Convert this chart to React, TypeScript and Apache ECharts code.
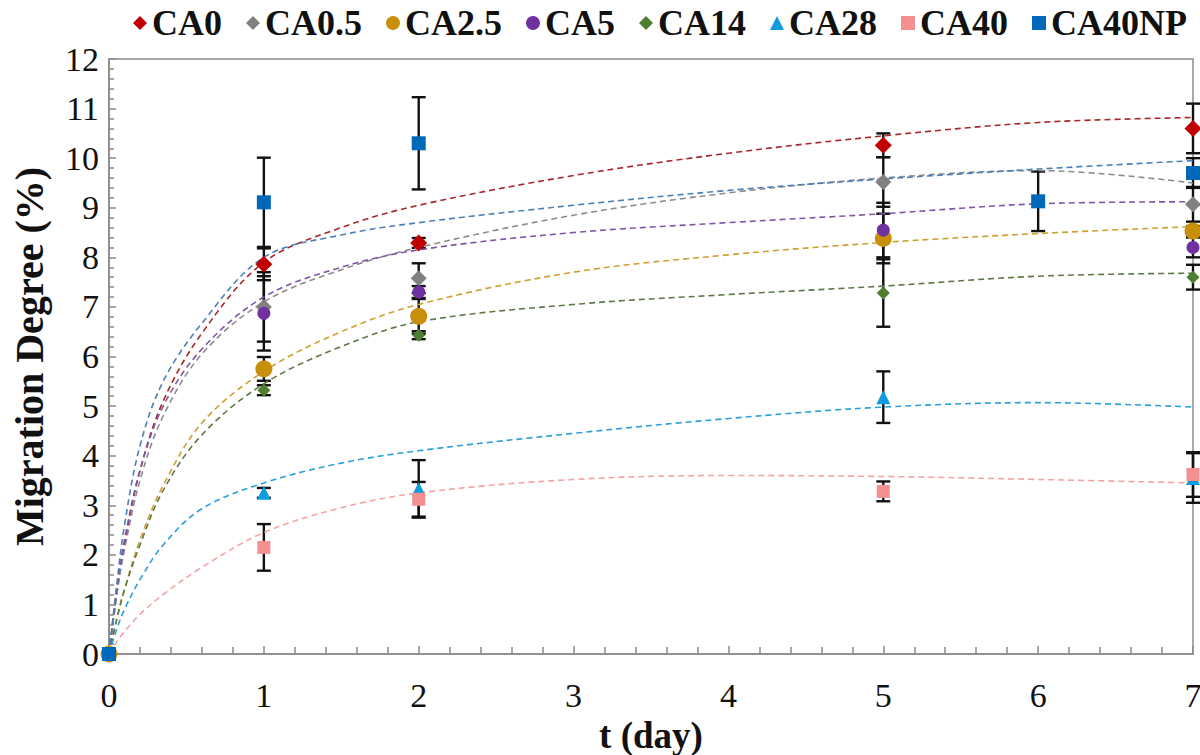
import React, { useEffect, useRef } from "react";
import * as echarts from "echarts";

// ---- data ----
const seriesNames = ["CA0", "CA0.5", "CA2.5", "CA5", "CA14", "CA28", "CA40", "CA40NP"];
const markerColors = ["#C00000", "#808080", "#C8900A", "#7030A0", "#4E7F2E", "#0F9BE0", "#F59090", "#0068B8"];
const trendColors = ["#A8282A", "#8C8C8C", "#CFA030", "#8055A8", "#5E7846", "#2A9FD8", "#F2A4A4", "#4A80B8"];
const symbols = ["diamond", "diamond", "circle", "circle", "diamond", "triangle", "rect", "rect"];
const symbolSizes = [17, 16, 17, 13, 13, 14, 13, 14];

const days = [0, 1, 2, 5, 7];
const daysNP = [0, 1, 2, 6, 7];

const CA0 = [0, 7.86, 8.29, 10.26, 10.6];
const CA0_5 = [0, 7.0, 7.58, 9.52, 9.07];
const CA2_5 = [0, 5.75, 6.81, 8.38, 8.53];
const CA5 = [0, 6.87, 7.3, 8.55, 8.2];
const CA14 = [0, 5.32, 6.43, 7.28, 7.6];
const CA28 = [0, 3.25, 3.33, 5.18, 3.55];
const CA40 = [0, 2.15, 3.12, 3.28, 3.62];
const CA40NP = [0, 9.11, 10.3, 9.13, 9.7];

const errCA0 = [0, 0.32, 0.1, 0.24, 0.5];
const errCA0_5 = [0, 0.7, 0.3, 0.5, 0.35];
const errCA2_5 = [0, 0.24, 0.35, 0.5, 0.1];
const errCA5 = [0, 0.75, 0.12, 0.55, 0.2];
const errCA14 = [0, 0.1, 0.08, 0.68, 0.25];
const errCA28 = [0, 0.1, 0.58, 0.52, 0.5];
const errCA40 = [0, 0.47, 0.35, 0.2, 0.45];
const errCA40NP = [0, 0.9, 0.93, 0.6, 0.3];

// dashed trend curves
const trendX = [0, 0.05, 0.1, 0.2, 0.35, 0.6, 1, 1.5, 2, 3, 4, 5, 6, 7];
const trCA0 = [0, 1.2, 2.2, 3.7, 5.1, 6.47, 7.9, 8.6, 9.05, 9.65, 10.1, 10.45, 10.72, 10.82];
const trCA0_5 = [0, 1.2, 2.1, 3.5, 4.8, 6.05, 7.1, 7.75, 8.2, 8.85, 9.3, 9.6, 9.75, 9.5];
const trCA2_5 = [0, 0.7, 1.3, 2.3, 3.4, 4.66, 5.7, 6.5, 7.05, 7.7, 8.05, 8.3, 8.48, 8.62];
const trCA5 = [0, 1.3, 2.3, 3.7, 5.0, 6.15, 7.2, 7.8, 8.15, 8.5, 8.7, 8.88, 9.08, 9.12];
const trCA14 = [0, 0.7, 1.3, 2.2, 3.3, 4.42, 5.45, 6.2, 6.7, 7.05, 7.25, 7.42, 7.62, 7.68];
const trCA28 = [0, 0.5, 0.9, 1.5, 2.2, 2.93, 3.45, 3.85, 4.1, 4.45, 4.75, 4.98, 5.07, 4.98];
const trCA40 = [0, 0.25, 0.45, 0.8, 1.2, 1.75, 2.45, 2.95, 3.25, 3.52, 3.6, 3.58, 3.52, 3.45];
const trCA40NP = [0, 1.4, 2.6, 4.2, 5.5, 6.67, 8.0, 8.45, 8.7, 9.05, 9.35, 9.58, 9.78, 9.95];

const values = [CA0, CA0_5, CA2_5, CA5, CA14, CA28, CA40, CA40NP];
const errors = [errCA0, errCA0_5, errCA2_5, errCA5, errCA14, errCA28, errCA40, errCA40NP];
const trends = [trCA0, trCA0_5, trCA2_5, trCA5, trCA14, trCA28, trCA40, trCA40NP];
const xsFor = (i: number) => (i === 7 ? daysNP : days);

const FONT = "Liberation Serif";
const AXIS_GRAY = "#8a8a8a";

export default function App() {
  const ref = useRef<HTMLDivElement>(null);

  useEffect(() => {
    if (!ref.current) return;
    const chart = echarts.init(ref.current, null, { renderer: "svg" });

    const errData: number[][] = [];
    values.forEach((vals, i) => {
      const xs = xsFor(i);
      vals.forEach((v, j) => {
        const e = errors[i][j];
        if (e > 0) errData.push([xs[j], v - e, v + e]);
      });
    });

    const trendSeries = trends.map((tr, i) => ({
      name: seriesNames[i] + " trend",
      type: "line",
      data: trendX.map((x, j) => [x, tr[j]]),
      smooth: 0.35,
      showSymbol: false,
      symbol: "none",
      silent: true,
      z: 3,
      lineStyle: { color: trendColors[i], width: 1.6, type: [6, 4] },
    }));

    const scatterSeries = values.map((vals, i) => ({
      name: seriesNames[i],
      type: "scatter",
      data: xsFor(i).map((x, j) => [x, vals[j]]),
      symbol: symbols[i],
      symbolSize: symbolSizes[i],
      itemStyle: { color: markerColors[i], opacity: 1 },
      z: 5 + i,
    }));

    const tickLabel = { fontFamily: FONT, fontSize: 34, color: "#111" };

    const option: any = {
      animation: false,
      backgroundColor: "#ffffff",
      legend: {
        top: 0,
        left: 128,
        padding: 5,
        itemWidth: 14,
        itemHeight: 14,
        itemGap: 24,
        data: seriesNames.map((n, i) => ({ name: n, icon: symbols[i] })),
        textStyle: { fontFamily: FONT, fontSize: 36, fontWeight: "bold", color: "#111" },
      },
      grid: {
        left: 109,
        right: 7,
        top: 59,
        bottom: 101,
        containLabel: false,
        outerBoundsMode: "none",
        show: true,
        borderColor: AXIS_GRAY,
        borderWidth: 1.5,
      },
      xAxis: {
        type: "value",
        position: "bottom",
        min: 0,
        max: 7,
        interval: 1,
        name: "t (day)",
        nameLocation: "middle",
        nameGap: 52,
        nameTextStyle: { fontFamily: FONT, fontSize: 37, fontWeight: "bold", color: "#111" },
        axisLine: { show: true, lineStyle: { color: AXIS_GRAY, width: 1.5 } },
        axisTick: { show: true, inside: true, length: 8, lineStyle: { color: AXIS_GRAY, width: 1.5 } },
        minorTick: { show: true, splitNumber: 5, length: 7, lineStyle: { color: AXIS_GRAY, width: 1.5 } },
        axisLabel: {
          fontFamily: "serif",
          fontSize: 34,
          fontWeight: 400,
          color: "#111",
          margin: 24,
          formatter: (v: number) => "{d|" + v + "}",
          rich: { d: { fontFamily: FONT, fontSize: 34, fontWeight: 400, color: "#111" } },
        },
        splitLine: { show: false },
      },
      yAxis: {
        type: "value",
        position: "left",
        min: 0,
        max: 12,
        interval: 1,
        name: "Migration Degree (%)",
        nameLocation: "middle",
        nameGap: 60,
        nameTextStyle: { fontFamily: FONT, fontSize: 40, fontWeight: "bold", color: "#111" },
        axisLine: { show: true, lineStyle: { color: AXIS_GRAY, width: 1.5 } },
        axisTick: { show: true, inside: true, length: 7, lineStyle: { color: AXIS_GRAY, width: 1.5 } },
        minorTick: { show: true, splitNumber: 5, length: 5, lineStyle: { color: AXIS_GRAY, width: 1.5 } },
        axisLabel: { ...tickLabel, margin: 10 },
        splitLine: { show: false },
      },
      series: [
        {
          name: "error",
          type: "custom",
          data: errData,
          encode: { x: 0, y: [1, 2] },
          silent: true,
          z: 2,
          renderItem: (params: any, api: any) => {
            const x = api.value(0);
            const lo = api.coord([x, api.value(1)]);
            const hi = api.coord([x, api.value(2)]);
            const w = 7;
            const style = { stroke: "#111111", lineWidth: 2.4 };
            return {
              type: "group",
              children: [
                { type: "line", shape: { x1: lo[0], y1: lo[1], x2: hi[0], y2: hi[1] }, style },
                { type: "line", shape: { x1: lo[0] - w, y1: lo[1], x2: lo[0] + w, y2: lo[1] }, style },
                { type: "line", shape: { x1: hi[0] - w, y1: hi[1], x2: hi[0] + w, y2: hi[1] }, style },
              ],
            };
          },
        },
        ...trendSeries,
        ...scatterSeries,
      ],
    };

    chart.setOption(option);
    return () => chart.dispose();
  }, []);

  return (
    <div
      ref={ref}
      style={{ position: "fixed", left: 0, top: 0, width: 1200, height: 755, background: "#fff" }}
    />
  );
}
